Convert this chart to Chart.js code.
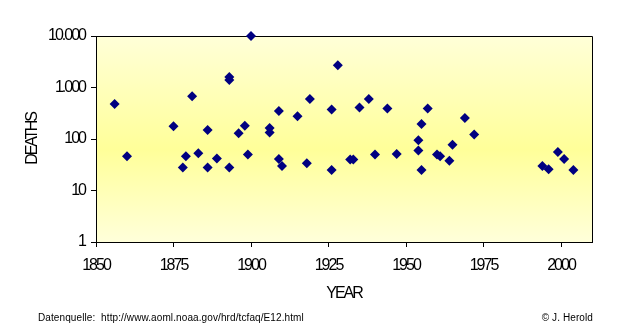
<!DOCTYPE html>
<html>
<head>
<meta charset="utf-8">
<title>Hurricane deaths</title>
<script src="https://cdn.jsdelivr.net/npm/chart.js@4/dist/chart.umd.min.js"></script>
<style>
  html, body { margin: 0; padding: 0; background: #ffffff; }
  #wrap { width: 627px; height: 334px; }
</style>
</head>
<body>
<div id="wrap"><canvas id="chart" width="627" height="334"></canvas></div>
<script>
// landfall year and deaths per storm
var years = [
  1856, 1860, 1875, 1878, 1879, 1881, 1883, 1886, 1886, 1889,
  1893, 1893, 1893, 1896, 1898, 1899, 1900, 1906, 1906, 1909,
  1909, 1910, 1915, 1918, 1919, 1926, 1926, 1928, 1932, 1933,
  1935, 1938, 1940, 1944, 1947, 1954, 1954, 1955, 1955, 1957,
  1960, 1961, 1964, 1965, 1969, 1972, 1994, 1996, 1999, 2001,
  2004
]
var deaths = [
  480, 46, 176, 28, 46, 680, 53, 150, 28, 42,
  1600, 1400, 28, 130, 180, 50, 10000, 164, 134, 350,
  41, 30, 275, 34, 600, 375, 25, 2700, 40, 40,
  408, 600, 50, 390, 51, 95, 60, 195, 25, 390,
  50, 46, 38, 77, 256, 122, 30, 26, 56, 41,
  25
]
var xTicks = [1850, 1875, 1900, 1925, 1950, 1975, 2000]
var yTicks = [1, 10, 100, 1000, 10000]
var yTickLabels = ["1", "10", "100", "1.000", "10.000"]

var sourceText = "Datenquelle:  http://www.aoml.noaa.gov/hrd/tcfaq/E12.html"
var creditText = "\u00a9 J. Herold"

var FONT = "'Liberation Sans', Arial, sans-serif"

// tight letter spacing for axis text, yellow gradient plot background, frame, footer
var chartDecor = {
  id: "chartDecor",
  beforeLayout: function (chart) {
    chart.ctx.letterSpacing = "-2px"
  },
  beforeDraw: function (chart) {
    var ctx = chart.ctx
    var a = chart.chartArea
    ctx.letterSpacing = "-2px"
    var g = ctx.createLinearGradient(0, a.top, 0, a.bottom)
    g.addColorStop(0, "#ffffd8")
    g.addColorStop(0.55, "#ffff99")
    g.addColorStop(1, "#ffffda")
    ctx.save()
    ctx.fillStyle = g
    ctx.fillRect(a.left, a.top, a.right - a.left, a.bottom - a.top)
    ctx.restore()
  },
  beforeDatasetsDraw: function (chart) {
    var ctx = chart.ctx
    var a = chart.chartArea
    ctx.save()
    ctx.strokeStyle = "#000000"
    ctx.lineWidth = 1
    ctx.beginPath()
    ctx.moveTo(a.left, a.top + 0.5)
    ctx.lineTo(a.right + 0.5, a.top + 0.5)
    ctx.lineTo(a.right + 0.5, a.bottom)
    ctx.stroke()
    ctx.restore()
  },
  afterDraw: function (chart) {
    var ctx = chart.ctx
    ctx.save()
    ctx.letterSpacing = "0.1px"
    ctx.font = "10px " + FONT
    ctx.fillStyle = "#000000"
    ctx.textBaseline = "alphabetic"
    ctx.textAlign = "left"
    ctx.fillText(sourceText, 38, 321)
    ctx.textAlign = "right"
    ctx.fillText(creditText, 593, 321)
    ctx.restore()
  },
}

var points = years.map(function (y, i) {
  return { x: y, y: deaths[i] }
})

new Chart(document.getElementById("chart"), {
  type: "scatter",
  data: {
    datasets: [
      {
        label: "Deaths",
        data: points,
        pointStyle: "rectRot",
        pointRadius: 5,
        pointHoverRadius: 5,
        backgroundColor: "#000080",
        borderColor: "#000080",
        borderWidth: 0,
        clip: false,
      },
    ],
  },
  options: {
    responsive: false,
    devicePixelRatio: 1,
    animation: false,
    events: [],
    layout: { padding: { top: 36, right: 35, left: 0, bottom: 0 } },
    plugins: {
      legend: { display: false },
      tooltip: { enabled: false },
    },
    scales: {
      x: {
        type: "linear",
        min: 1850,
        max: 2010,
        afterBuildTicks: function (scale) {
          scale.ticks = xTicks.map(function (v) {
            return { value: v }
          })
        },
        afterFit: function (scale) {
          scale.height = 92
        },
        grid: { drawOnChartArea: false, drawTicks: true, tickLength: 5, color: "#000000", lineWidth: 1 },
        border: { display: true, color: "#000000", width: 1 },
        ticks: {
          color: "#000000",
          font: { family: FONT, size: 16 },
          padding: 9,
          maxRotation: 0,
          autoSkip: false,
          callback: function (v) {
            return String(v)
          },
        },
        title: {
          display: true,
          text: "YEAR",
          color: "#000000",
          font: { family: FONT, size: 16 },
          padding: { top: 0, bottom: 31 },
        },
      },
      y: {
        type: "logarithmic",
        min: 1,
        max: 10000,
        afterBuildTicks: function (scale) {
          scale.ticks = yTicks.map(function (v) {
            return { value: v }
          })
        },
        afterFit: function (scale) {
          scale.width = 96
        },
        grid: { drawOnChartArea: false, drawTicks: true, tickLength: 5, color: "#000000", lineWidth: 1 },
        border: { display: true, color: "#000000", width: 1 },
        ticks: {
          color: "#000000",
          font: { family: FONT, size: 16 },
          padding: 6,
          autoSkip: false,
          callback: function (v) {
            return yTickLabels[yTicks.indexOf(v)]
          },
        },
        title: {
          display: true,
          text: "DEATHS",
          color: "#000000",
          font: { family: FONT, size: 16 },
          padding: { top: 23, bottom: 0 },
        },
      },
    },
  },
  plugins: [chartDecor],
})
</script>
</body>
</html>
